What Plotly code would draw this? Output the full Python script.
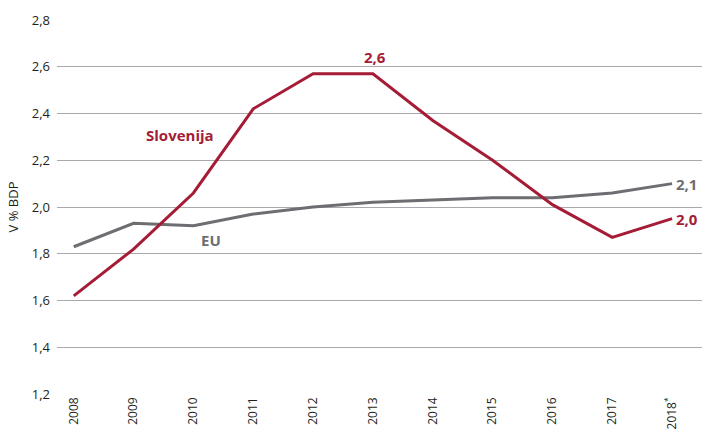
import plotly.graph_objects as go

years = ["2008", "2009", "2010", "2011", "2012", "2013", "2014", "2015", "2016", "2017", "2018<sup>*</sup>"]
slovenija = [1.62, 1.82, 2.06, 2.42, 2.57, 2.57, 2.37, 2.20, 2.01, 1.87, 1.95]
eu = [1.83, 1.93, 1.92, 1.97, 2.00, 2.02, 2.03, 2.04, 2.04, 2.06, 2.10]
yticks = [1.2, 1.4, 1.6, 1.8, 2.0, 2.2, 2.4, 2.6, 2.8]
ytick_labels = ["1,2", "1,4", "1,6", "1,8", "2,0", "2,2", "2,4", "2,6", "2,8"]

RED = "#A51C36"
GRAY = "#6D6E71"
FONT = "Open Sans"

xs = list(range(len(years)))

fig = go.Figure()
fig.add_trace(go.Scatter(x=xs, y=eu, mode="lines", line=dict(color=GRAY, width=3), name="EU"))
fig.add_trace(go.Scatter(x=xs, y=slovenija, mode="lines", line=dict(color=RED, width=3), name="Slovenija"))

fig.add_annotation(x=1.78, y=2.31, text="<b>Slovenija</b>", showarrow=False,
                   font=dict(family=FONT, size=15, color=RED))
fig.add_annotation(x=5.03, y=2.64, text="<b>2,6</b>", showarrow=False,
                   font=dict(family=FONT, size=15, color=RED))
fig.add_annotation(x=2.3, y=1.86, text="<b>EU</b>", showarrow=False,
                   font=dict(family=FONT, size=15, color=GRAY))
fig.add_annotation(x=10, y=eu[-1], text="<b>2,1</b>", showarrow=False, xanchor="left", xshift=2,
                   font=dict(family=FONT, size=15, color=GRAY))
fig.add_annotation(x=10, y=slovenija[-1], text="<b>2,0</b>", showarrow=False, xanchor="left", xshift=2,
                   font=dict(family=FONT, size=15, color=RED))

fig.update_layout(
    width=702, height=432,
    margin=dict(l=57, r=0, t=20, b=38),
    paper_bgcolor="white", plot_bgcolor="white",
    showlegend=False,
    font=dict(family=FONT, size=12, color="#231F20"),
    xaxis=dict(range=[-0.28, 10.5], tickvals=xs, ticktext=years, tickangle=-90,
               showgrid=False, zeroline=False, showline=False, ticks="",
               tickfont=dict(size=12), automargin=False, fixedrange=True),
    yaxis=dict(range=[1.2, 2.8], tickvals=yticks, ticktext=ytick_labels,
               showgrid=True, gridcolor="#A7A9AC", gridwidth=1, zeroline=False,
               showline=False, ticks="", ticklabelstandoff=6, automargin=False,
               tickfont=dict(size=13), fixedrange=True,
               title=dict(text="V % BDP", font=dict(size=13), standoff=10)),
)

fig.write_html("out.html", config={"displayModeBar": False, "staticPlot": True},
               post_script="document.body.style.margin='0';document.body.style.overflow='hidden';")
